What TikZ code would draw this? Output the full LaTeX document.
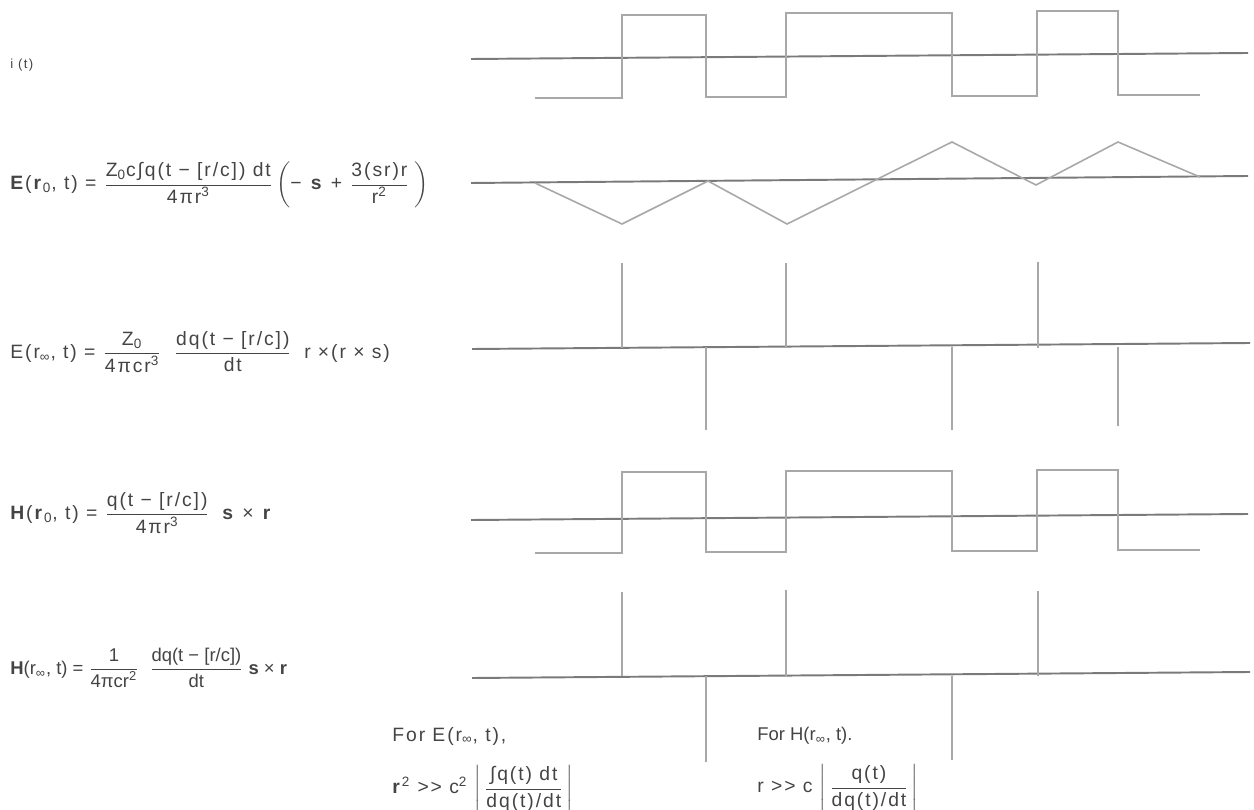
\documentclass[tikz,border=0pt]{standalone}
\usepackage{amsmath}
\usepackage{fontspec}
\setmainfont[LetterSpace=10]{Liberation Sans}
\newfontfamily\tightfont{Liberation Sans}
\newcommand{\fr}[2]{\ensuremath{\genfrac{}{}{0.4pt}{0}{\text{#1}}{\text{#2}}}}
\definecolor{txt}{HTML}{444444}
\definecolor{wave}{HTML}{A8A8A8}
\definecolor{axis}{HTML}{7A7A7A}
\begin{document}
\begin{tikzpicture}[x=0.02cm,y=-0.02cm,
  lbl/.style={anchor=west,inner sep=0pt,text=txt,font=\fontsize{11}{13}\selectfont},
  tight/.style={font=\fontsize{10.5}{12}\tightfont},
  wv/.style={draw=wave,line width=0.9pt,line join=miter},
  ax/.style={draw=axis,line width=1.1pt}]
\useasboundingbox (0,0) rectangle (1254,810);
% ---------- labels ----------
\node[lbl,font=\fontsize{7.5}{9}\selectfont] (l1) at (10,65) {i (t)};
\node[lbl] (l2) at (10,185) {\textbf{E}(\textbf{r}\textsubscript{0}, t) = \fr{Z\textsubscript{0}c∫q(t − [r/c]) dt}{4πr\textsuperscript{3}}\,$\left(\text{− \textbf{s} + \fr{3(sr)r}{r\textsuperscript{2}}}\;\right)$};
\node[lbl] (l3) at (10,352) {E(r\textsubscript{∞}, t) = \fr{Z\textsubscript{0}}{4πcr\textsuperscript{3}}\; \fr{dq(t − [r/c])}{dt}\; r ×(r × s)};
\node[lbl] (l4) at (10,513) {\textbf{H}(\textbf{r}\textsubscript{0}, t) = \fr{q(t − [r/c])}{4πr\textsuperscript{3}}\; \textbf{s} × \textbf{r}};
\node[lbl,tight] (l5) at (10,668) {\textbf{H}(r\textsubscript{∞}, t) = \fr{1}{4πcr\textsuperscript{2}}\; \fr{dq(t − [r/c])}{dt} \textbf{s} × \textbf{r}};
\node[lbl] (c1) at (392,736) {For E(r\textsubscript{∞}, t),};
\node[lbl] (c2) at (392,789) {\textbf{r}\textsuperscript{2} >{}> c\textsuperscript{2} $\left|\,\fr{∫q(t) dt}{dq(t)/dt}\,\right|$};
\node[lbl,font=\fontsize{10.5}{12}\tightfont] (c3) at (757,736) {For H(r\textsubscript{∞}, t).};
\node[lbl] (c4) at (757,788) {r >{}> c $\left|\,\fr{q(t)}{dq(t)/dt}\,\right|$};
% ---------- row 1: square wave ----------
\draw[ax] (471,59) -- (1248,53);
\draw[wv] (535,98) -- (622,98) -- (622,15) -- (706,15) -- (706,97) -- (786,97) -- (786,13) -- (952,13) -- (952,96) -- (1037,96) -- (1037,11) -- (1118,11) -- (1118,95) -- (1200,95);
% ---------- row 2: triangle ----------
\draw[ax] (471,183) -- (1248,176);
\draw[wv] (535,183) -- (622,224) -- (708,181) -- (787,224) -- (952,142) -- (1036,185) -- (1118,142) -- (1200,177);
% ---------- row 3: impulses ----------
\draw[ax] (472,349) -- (1250,343);
\foreach \x/\t in {622/263,786/263,1038/262} \draw[wv] (\x,\t) -- (\x,348);
\foreach \x/\b in {706/430,952/430,1118/426} \draw[wv] (\x,347) -- (\x,\b);
% ---------- row 4: square wave ----------
\draw[ax] (471,520) -- (1248,514);
\draw[wv] (535,553) -- (622,553) -- (622,472) -- (706,472) -- (706,552) -- (786,552) -- (786,471) -- (952,471) -- (952,551) -- (1037,551) -- (1037,470) -- (1118,470) -- (1118,550) -- (1200,550);
% ---------- row 5: impulses ----------
\draw[ax] (472,678) -- (1250,672);
\foreach \x/\t in {622/592,786/590,1038/591} \draw[wv] (\x,\t) -- (\x,676);
\foreach \x/\b in {706/762,952/760} \draw[wv] (\x,676) -- (\x,\b);
\end{tikzpicture}
\end{document}
